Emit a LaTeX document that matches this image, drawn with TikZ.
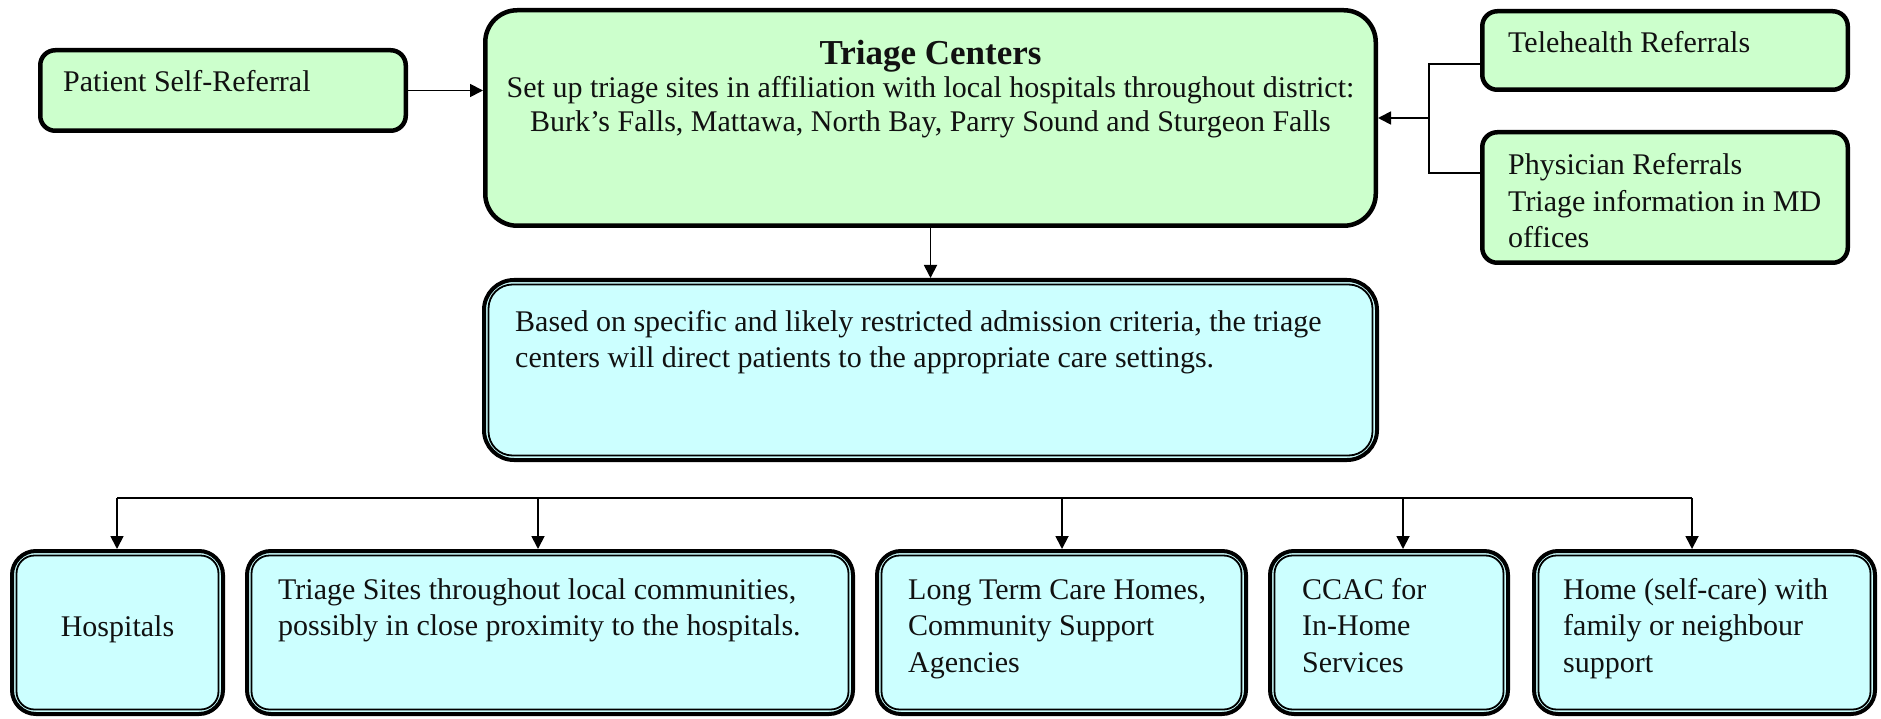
\documentclass[tikz,border=0pt]{standalone}
\usepackage{fontspec}
\setmainfont{Liberation Serif}
\usetikzlibrary{arrows.meta,calc}

\definecolor{greenfill}{HTML}{CCFFCC}
\definecolor{bluefill}{HTML}{CCFFFF}
\definecolor{inkcol}{HTML}{111111}

% multi-line text whose anchor sits on the first baseline
\newcommand\leftlines[1]{\begin{tabular}[t]{@{}l@{}}#1\end{tabular}}

\begin{document}
\begin{tikzpicture}[x=1pt,y=-1pt,
  every node/.style={font=\fontsize{30}{36.5}\selectfont, text=inkcol},
  gbox/.style={draw=black, fill=greenfill, line width=4.5pt, inner sep=0pt,
    rounded corners=15pt},
  bbox/.style={draw=black, fill=bluefill, line width=4pt, inner sep=0pt,
    rounded corners=24pt},
  txt/.style={inner sep=0pt, anchor=base west, align=left},
  ctxt/.style={inner sep=0pt, anchor=base},
  link/.style={draw=black, line width=1.8pt},
  arr/.style={link, -{Triangle[length=13pt,width=13pt]}},
  innerframe/.style={draw=black, line width=1.8pt},
]
\useasboundingbox (0,0) rectangle (1881,719);

% ---------- top row ----------
\node[gbox, minimum width=365.5pt, minimum height=80.5pt] (pat) at (223,90.5) {};
\node[txt] (patT) at (63,92) {Patient Self-Referral};

\node[gbox, rounded corners=32pt, minimum width=890.5pt, minimum height=215.5pt] (tc) at (930.5,118) {};
\node[ctxt, font=\fontsize{35}{40}\selectfont\bfseries] (tcT) at (930.5,65) {Triage Centers};
\node[ctxt] (tcA) at (930.5,98) {Set up triage sites in affiliation with local hospitals throughout district:};
\node[ctxt] (tcB) at (930.5,132) {Burk’s Falls, Mattawa, North Bay, Parry Sound and Sturgeon Falls};

\node[gbox, minimum width=365.5pt, minimum height=78.5pt] (tele) at (1665,50.5) {};
\node[txt] (teleT) at (1508,53) {Telehealth Referrals};

\node[gbox, minimum width=365.5pt, minimum height=130.5pt] (phys) at (1665,197.5) {};
\node[txt] (physT) at (1508,175) {\leftlines{Physician Referrals\\Triage information in MD\\offices}};

% ---------- middle ----------
\node[bbox, rounded corners=30pt, minimum width=893pt, minimum height=180pt] (mid) at (930.5,370) {};
\node[txt] (midT) at (515,331) {\leftlines{Based on specific and likely restricted admission criteria, the triage\\centers will direct patients to the appropriate care settings.}};

% ---------- bottom row ----------
\node[bbox, minimum width=211pt, minimum height=163pt] (hosp) at (117.5,632.5) {};
\node[ctxt] (hospT) at (117.5,636) {Hospitals};

\node[bbox, minimum width=606pt, minimum height=163pt] (sites) at (550,632.5) {};
\node[txt] (sitesT) at (278,599) {\leftlines{Triage Sites throughout local communities,\\possibly in close proximity to the hospitals.}};

\node[bbox, minimum width=369pt, minimum height=163pt] (ltc) at (1061.5,632.5) {};
\node[txt] (ltcT) at (908,599) {\leftlines{Long Term Care Homes,\\Community Support\\Agencies}};

\node[bbox, minimum width=238pt, minimum height=163pt] (ccac) at (1389,632.5) {};
\node[txt] (ccacT) at (1302,599) {\leftlines{CCAC for\\In-Home\\Services}};

\node[bbox, minimum width=341pt, minimum height=163pt] (home) at (1704.5,632.5) {};
\node[txt] (homeT) at (1563,599) {\leftlines{Home (self-care) with\\family or neighbour\\support}};

% thin inner line of the double frames
\draw[innerframe, rounded corners=24pt]
  ([shift={(6.5,6.5)}]mid.north west) rectangle ([shift={(-6.5,-6.5)}]mid.south east);
\foreach \n in {hosp,sites,ltc,ccac,home}
  \draw[innerframe, rounded corners=18pt]
    ([shift={(6.5,6.5)}]\n.north west) rectangle ([shift={(-6.5,-6.5)}]\n.south east);

% ---------- connectors ----------
\draw[arr] (pat.east) -- (pat.east -| tc.west);

\coordinate (tj) at (1429,64);
\coordinate (pj) at (1429,173);
\coordinate (rj) at (1429,118);
\draw[link] (tj -| tele.west) -- (tj) -- (pj) -- (pj -| phys.west);
\draw[arr] (rj) -- (rj -| tc.east);

\draw[arr] (tc.south) -- (mid.north);

\coordinate (b1) at (117,498);
\coordinate (b2) at (538,498);
\coordinate (b3) at (1062,498);
\coordinate (b4) at (1403,498);
\coordinate (b5) at (1692,498);
\draw[link] (b1) -- (b5);
\draw[arr] (b1) -- (b1 |- hosp.north);
\draw[arr] (b2) -- (b2 |- sites.north);
\draw[arr] (b3) -- (b3 |- ltc.north);
\draw[arr] (b4) -- (b4 |- ccac.north);
\draw[arr] (b5) -- (b5 |- home.north);
\end{tikzpicture}
\end{document}
